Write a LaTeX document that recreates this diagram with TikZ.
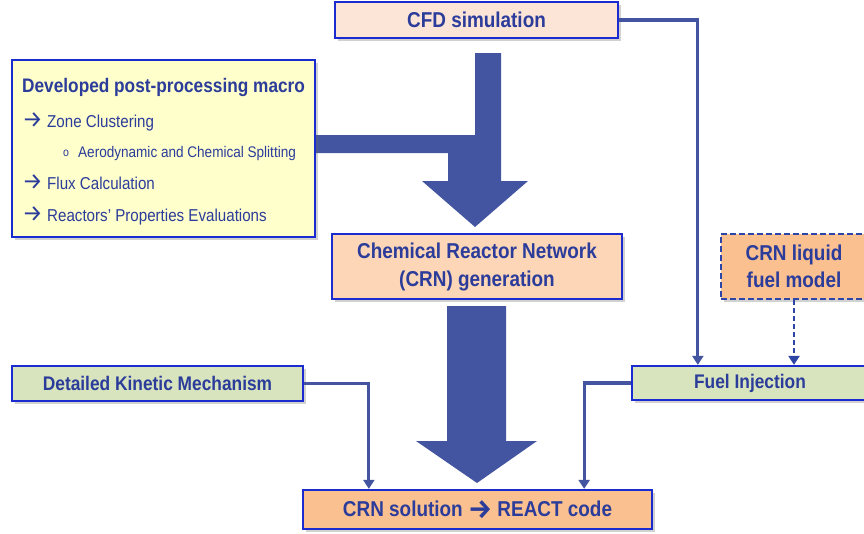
\documentclass[tikz,border=0pt]{standalone}
\usepackage{fontspec}
\setmainfont{Liberation Sans}[FakeStretch=0.88]
\newfontfamily\arrowfont{Fira Sans}
\usetikzlibrary{arrows.meta,shadows,calc}
\definecolor{boxblue}{HTML}{1A2BCF}
\definecolor{inkblue}{HTML}{2B3C9A}
\definecolor{flowblue}{HTML}{4355A0}
\definecolor{dashblue}{HTML}{2D46A6}
\definecolor{cfdfill}{HTML}{FCE5D7}
\definecolor{notefill}{HTML}{FFFFCC}
\definecolor{genfill}{HTML}{FCD6B6}
\definecolor{orangefill}{HTML}{FAC090}
\definecolor{greenfill}{HTML}{D8E4BE}
% list arrow and the larger arrow in the solver box
\newcommand{\rarr}{\scalebox{1.35}{\arrowfont →}}
\newcommand{\bigrarr}{\raisebox{-2pt}{\scalebox{1.25}{\arrowfont\bfseries →}}}
\begin{document}
\begin{tikzpicture}[x=1pt,y=-1pt,
  block/.style={draw=boxblue, line width=2.3pt, text=inkblue, inner sep=0pt, align=center,
    drop shadow={shadow xshift=2.5pt, shadow yshift=-2.5pt, opacity=0.3, fill=black!60}},
  big/.style={font=\fontsize{21.5}{28}\selectfont\bfseries},
  mid/.style={font=\fontsize{19.7}{24}\selectfont\bfseries},
  item/.style={anchor=base west, text=inkblue, inner sep=0pt, font=\fontsize{17.2}{20}\selectfont},
  link/.style={draw=flowblue, line width=3.2pt, -{Triangle[length=9pt,width=11pt]}},
  flow/.style={fill=flowblue, draw=none}]

\useasboundingbox (0,0) rectangle (864,533);

% broad flow arrows: CFD + macro merge into CRN generation, then on to the solver
\fill[flow] (475,53) -- (501,53) -- (501,181) -- (528,181) -- (475,227) -- (422,181)
  -- (448,181) -- (448,153) -- (315,153) -- (315,135) -- (475,135) -- cycle;
\fill[flow] (447,306) -- (506,306) -- (506,441) -- (537,441) -- (477,483)
  -- (416,441) -- (447,441) -- cycle;

% boxes
\node[block, big, fill=cfdfill, minimum width=283pt, minimum height=36pt] (cfd) at (476.5,20) {CFD simulation};

\node[block, fill=notefill, minimum width=303pt, minimum height=177pt] (macro) at (163.5,148.5) {};
\node[item, font=\fontsize{19.6}{22}\selectfont\bfseries] (mhead) at (22,92) {Developed post-processing macro};
\node[item] (zone) at (22,127.3) {\makebox[25pt][l]{\rarr}Zone Clustering};
\node[item, font=\fontsize{15.4}{18}\selectfont] (split) at (63,157.3) {\makebox[15pt][l]{\raisebox{1pt}{\fontsize{12}{12}\selectfont o}}Aerodynamic and Chemical Splitting};
\node[item] (flux) at (22,189.3) {\makebox[25pt][l]{\rarr}Flux Calculation};
\node[item] (props) at (22,221.7) {\makebox[25pt][l]{\rarr}Reactors’ Properties Evaluations};

\node[block, big, fill=genfill, minimum width=290pt, minimum height=65pt] (gen) at (477,266.5) {Chemical Reactor Network\\(CRN) generation};
\node[block, big, fill=orangefill, minimum width=349pt, minimum height=39pt] (sol) at (477.5,509.5) {CRN solution \bigrarr{} REACT code};
\node[block, mid, fill=greenfill, minimum width=291pt, minimum height=35pt] (kin) at (157.5,383.5) {Detailed Kinetic Mechanism};
\node[block, mid, fill=greenfill, minimum width=236pt, minimum height=34pt] (fuel) at (750,383) {Fuel Injection};
\node[block, fill=orangefill, draw=dashblue, dash pattern=on 6pt off 3pt,
  font=\fontsize{21.5}{27}\selectfont\bfseries, minimum width=146pt, minimum height=65pt] (liq) at (794,266.5) {CRN liquid\\fuel model};

% connectors
\draw[link] (cfd.east) -| ($(fuel.north west)+(67,0)$);
\draw[link] (kin.east) -| ($(sol.north west)+(67,0)$);
\draw[link] (fuel.west) -| ($(sol.north east)+(-69,0)$);
\draw[link, draw=dashblue, line width=2.4pt, dash pattern=on 5pt off 3pt] (liq.south) -- (liq.south |- fuel.north);
\end{tikzpicture}
\end{document}
